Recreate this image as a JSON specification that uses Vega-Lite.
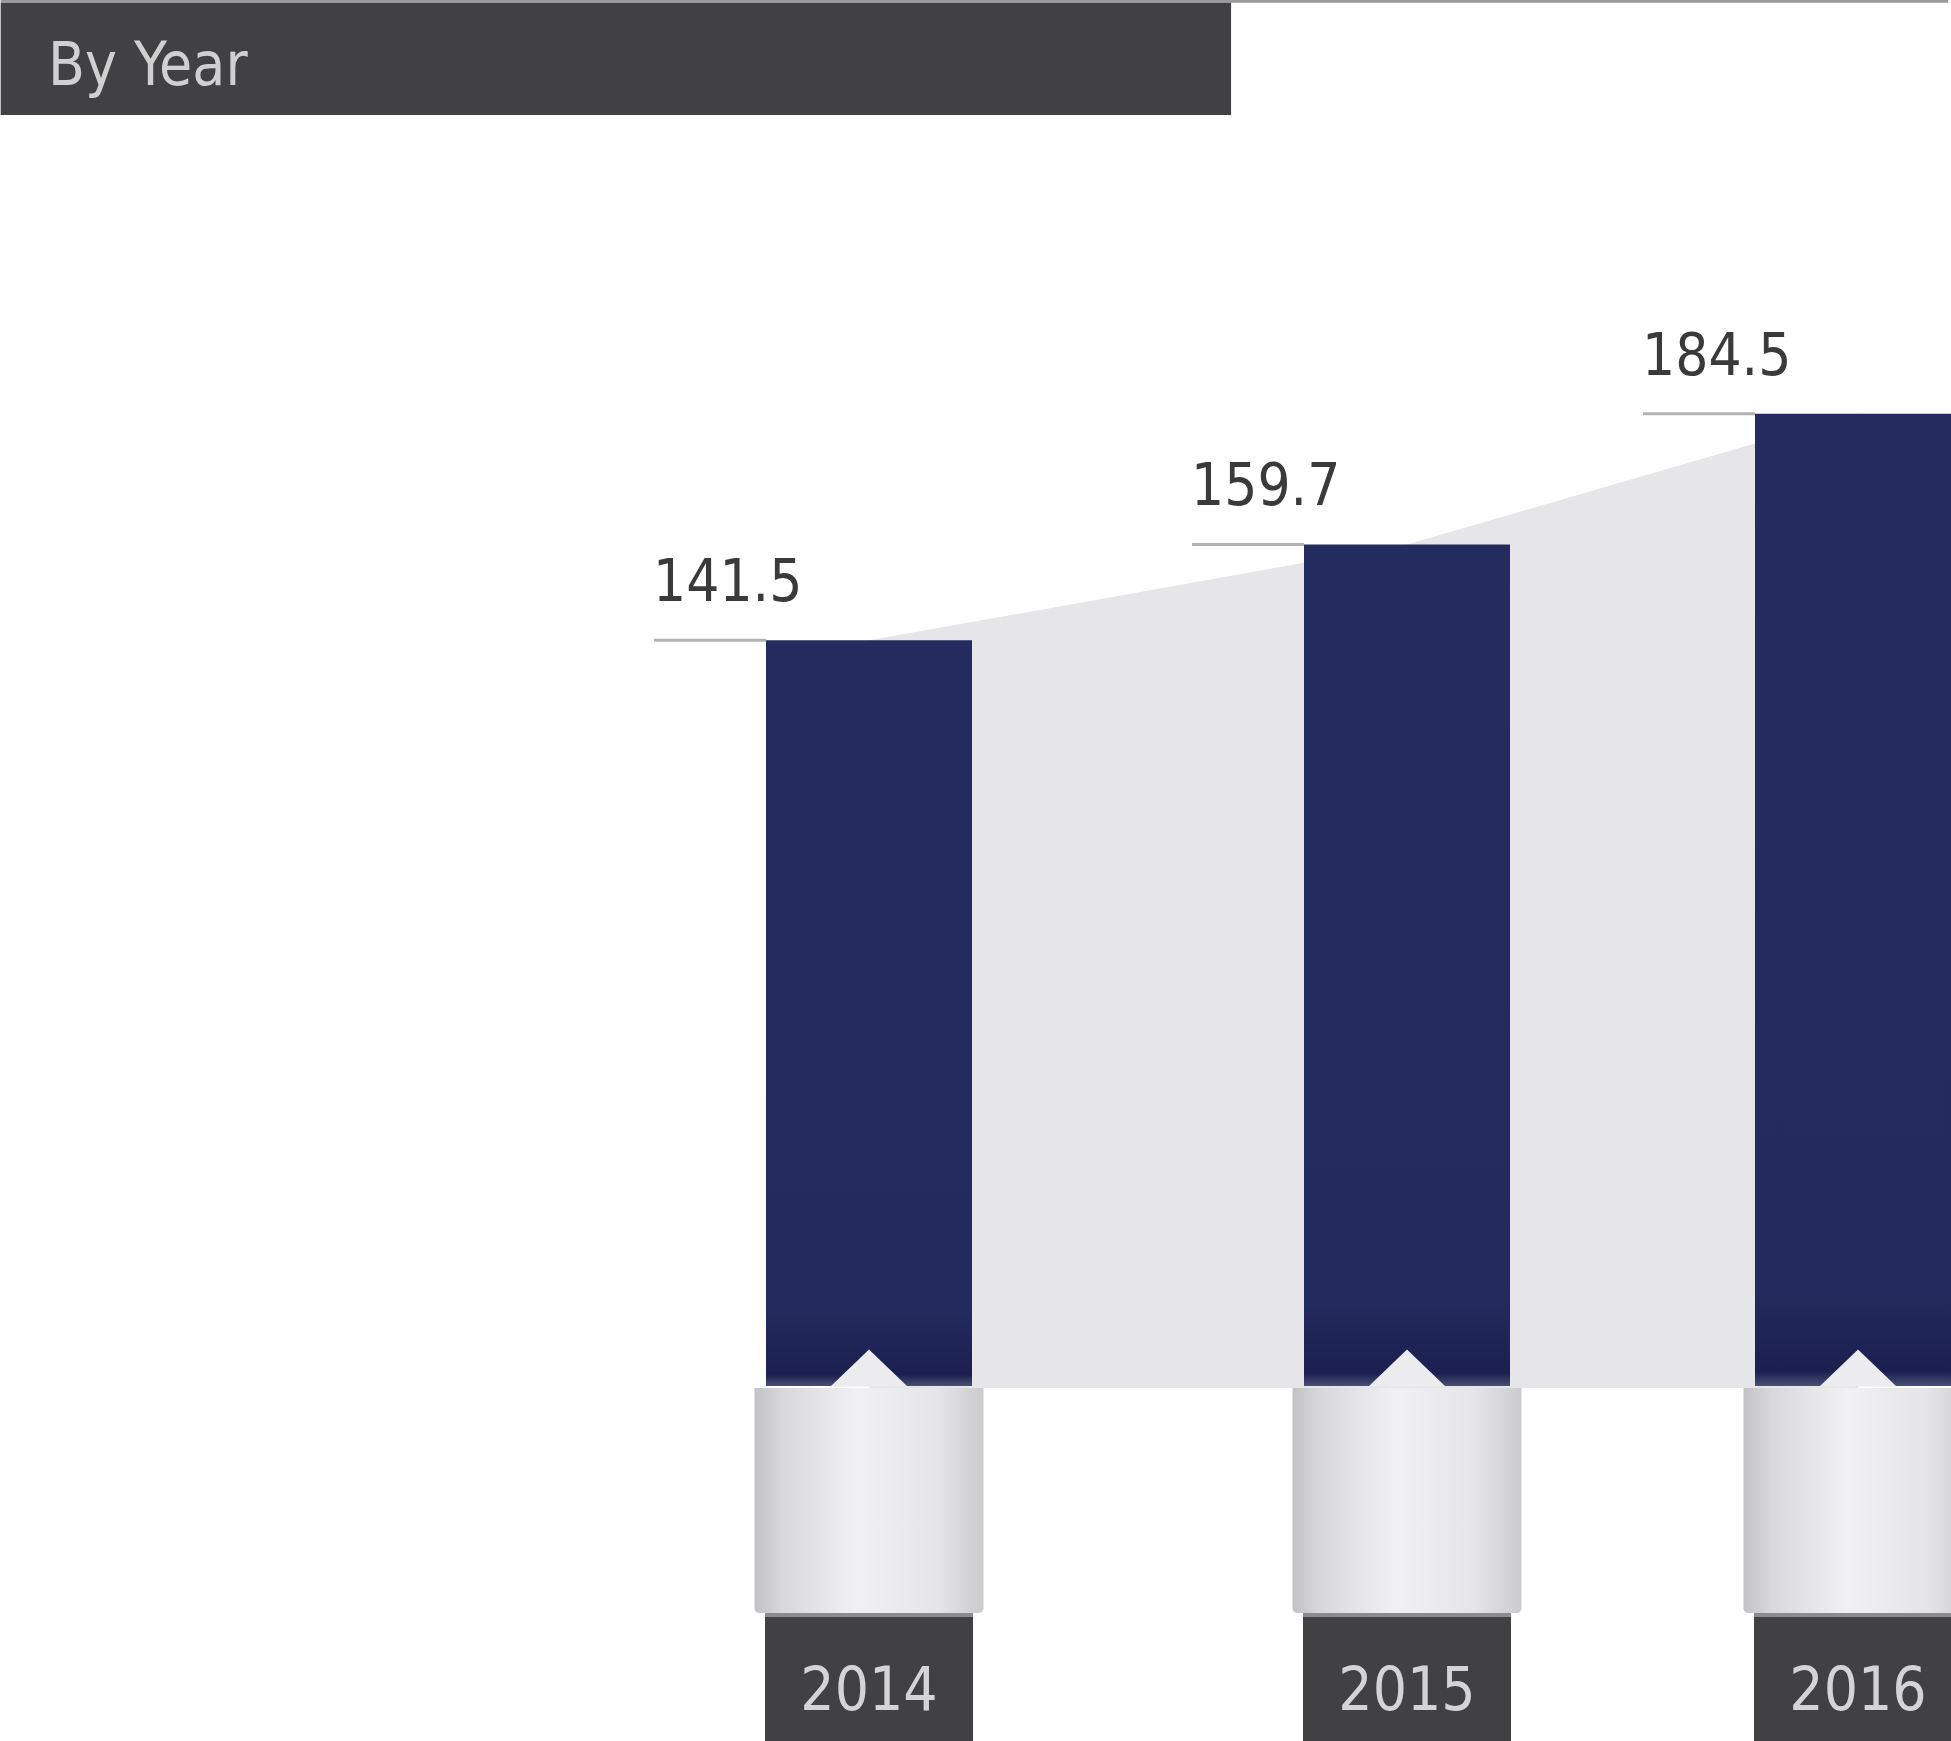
{
  "$schema": "https://vega.github.io/schema/vega-lite/v6.json",
  "width": 1951,
  "height": 1741,
  "padding": 0,
  "autosize": {"type": "fit", "contains": "padding"},
  "background": "#ffffff",
  "config": {"view": {"stroke": null}, "axis": {"disable": true}, "scale": {"continuousPadding": 0}},
  "data": {"values": [
    {"year": 2014, "value": 141.5},
    {"year": 2015, "value": 159.7},
    {"year": 2016, "value": 184.5}
  ]},
  "layer": [
    {
      "data": {"values": [{"label": "By Year"}]},
      "mark": {"type": "rect", "color": "#9a9a9a", "clip": true},
      "encoding": {
        "x": {"datum": 2012.386, "type": "quantitative", "scale": {"type": "linear", "domain": [2014, 2015, 2016], "range": [869, 1407, 1858], "zero": false, "nice": false, "padding": 0}},
        "x2": {"datum": 2016.2},
        "y": {"datum": 263.02, "type": "quantitative", "scale": {"domain": [-67.37, 263.02], "zero": false, "nice": false, "padding": 0}},
        "y2": {"datum": 262.5}
      }
    },
    {
      "data": {"values": [{"label": "By Year"}]},
      "mark": {"type": "rect", "color": "#414042", "clip": true},
      "encoding": {
        "x": {"datum": 2012.386, "type": "quantitative"},
        "x2": {"datum": 2014.673},
        "y": {"datum": 262.5, "type": "quantitative"},
        "y2": {"datum": 241.2}
      }
    },
    {
      "data": {"values": [{"label": "By Year"}]},
      "mark": {"type": "text", "align": "left", "baseline": "alphabetic", "font": "DejaVu Sans Condensed, Roboto, sans-serif", "fontSize": 60, "color": "#d0d0d0", "clip": true},
      "encoding": {
        "x": {"datum": 2012.474, "type": "quantitative"},
        "y": {"datum": 246.9, "type": "quantitative"},
        "text": {"field": "label", "type": "nominal"}
      }
    },
    {
      "mark": {"type": "area", "color": "#e6e6e8", "interpolate": "linear", "opacity": 1, "clip": true},
      "encoding": {
        "x": {"field": "year", "type": "quantitative"},
        "y": {"field": "value", "type": "quantitative"},
        "y2": {"datum": -0.4}
      }
    },
    {
      "mark": {"type": "bar", "width": 229, "cornerRadiusBottomLeft": 5, "cornerRadiusBottomRight": 5, "clip": true,
        "color": {"gradient": "linear", "x1": 0, "y1": 0, "x2": 1, "y2": 0, "stops": [
          {"offset": 0, "color": "#c2c2c5"},
          {"offset": 0.12, "color": "#d8d8db"},
          {"offset": 0.45, "color": "#f1f1f3"},
          {"offset": 0.8, "color": "#e5e5e8"},
          {"offset": 1, "color": "#cbcbce"}
        ]}},
      "encoding": {
        "x": {"field": "year", "type": "quantitative"},
        "y": {"datum": -0.4, "type": "quantitative"},
        "y2": {"datum": -43.08}
      }
    },
    {
      "mark": {"type": "bar", "width": 208, "color": "#8c8c8c", "clip": true},
      "encoding": {
        "x": {"field": "year", "type": "quantitative"},
        "y": {"datum": -43.08, "type": "quantitative"},
        "y2": {"datum": -43.84}
      }
    },
    {
      "mark": {"type": "bar", "width": 208, "color": "#414042", "clip": true},
      "encoding": {
        "x": {"field": "year", "type": "quantitative"},
        "y": {"datum": -43.84, "type": "quantitative"},
        "y2": {"datum": -67.37}
      }
    },
    {
      "mark": {"type": "text", "align": "center", "baseline": "alphabetic", "font": "DejaVu Sans Condensed, Roboto, sans-serif", "fontSize": 60, "color": "#d4d4d4", "clip": true},
      "encoding": {
        "x": {"field": "year", "type": "quantitative"},
        "y": {"datum": -61.49, "type": "quantitative"},
        "text": {"field": "year", "type": "quantitative", "format": "d"}
      }
    },
    {
      "mark": {"type": "bar", "width": 206, "clip": true,
        "color": {"gradient": "linear", "x1": 0, "y1": 0, "x2": 0, "y2": 1, "stops": [
          {"offset": 0, "color": "#242b5f"},
          {"offset": 0.9, "color": "#232a5d"},
          {"offset": 0.985, "color": "#1b2050"},
          {"offset": 1, "color": "#4a4f74"}
        ]}},
      "encoding": {
        "x": {"field": "year", "type": "quantitative"},
        "y": {"field": "value", "type": "quantitative"},
        "y2": {"datum": 0}
      }
    },
    {
      "mark": {"type": "point", "shape": "M-1,0.48L0,-0.48L1,0.48Z", "size": 5929, "filled": true, "color": "#ececee", "opacity": 1, "strokeWidth": 0, "yOffset": -18, "clip": true},
      "encoding": {
        "x": {"field": "year", "type": "quantitative"},
        "y": {"datum": 0, "type": "quantitative"}
      }
    },
    {
      "mark": {"type": "rule", "color": "#b3b3b3", "strokeWidth": 3, "xOffset": -215, "x2Offset": -103, "clip": true},
      "encoding": {
        "x": {"field": "year", "type": "quantitative"},
        "x2": {"field": "year"},
        "y": {"field": "value", "type": "quantitative"}
      }
    },
    {
      "mark": {"type": "text", "align": "left", "baseline": "alphabetic", "dx": -216, "dy": -39, "font": "DejaVu Sans Condensed, Roboto, sans-serif", "fontSize": 58, "color": "#3a3a3a", "clip": true},
      "encoding": {
        "x": {"field": "year", "type": "quantitative"},
        "y": {"field": "value", "type": "quantitative"},
        "text": {"field": "value", "type": "quantitative", "format": ".1f"}
      }
    }
  ]
}
